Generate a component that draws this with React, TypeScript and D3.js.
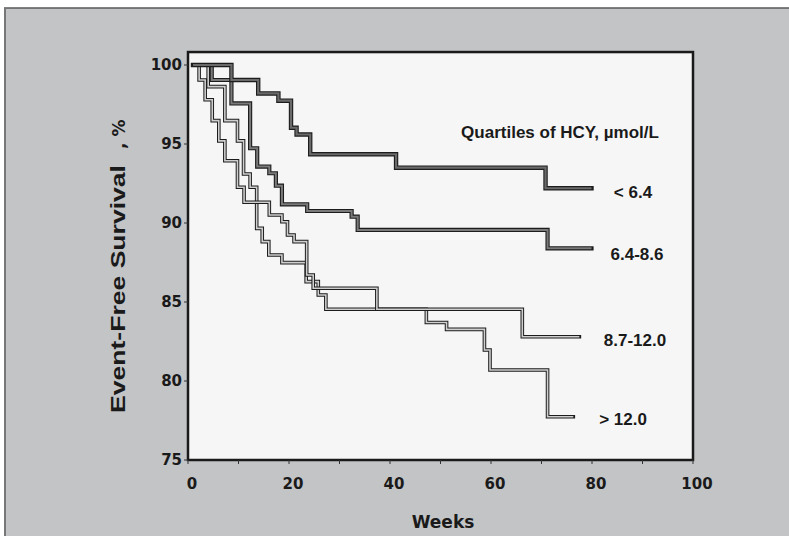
import * as d3 from "d3";

// Kaplan-Meier steps: week of each step and survival (%) after it
const grp1Weeks = [1, 8.6, 13.9, 17.9, 20.4, 21.5, 24.2, 41.2, 70.8, 79.9];
const grp1Surv = [100, 99.05, 98.2, 97.74, 96.03, 95.6, 94.35, 93.5, 92.2, 92.2];

const grp2Weeks = [1, 4.7, 8.6, 12.3, 13.7, 16.1, 17.4, 18.6, 23.6, 32.4, 33.6, 71.2, 79.9];
const grp2Surv = [100, 99.05, 97.57, 94.73, 93.57, 93.15, 92.36, 91.18, 90.76, 90.4, 89.56, 88.4, 88.4];

const grp3Weeks = [1, 2.2, 3.4, 4.8, 6.1, 7.3, 9.8, 11.1, 16.1, 18.6, 19.7, 21.0, 23.5, 24.8, 37.4, 66.2, 77.5];
const grp3Surv = [100, 99.05, 97.8, 96.48, 95.2, 93.94, 92.26, 91.31, 90.51, 90.08, 89.24, 88.82, 86.71, 85.87, 84.54, 82.8, 82.8];

const grp4Weeks = [1, 4.0, 7.3, 9.8, 11.0, 12.3, 13.6, 14.7, 16.0, 18.6, 23.4, 25.8, 27.3, 47.2, 51.2, 58.7, 59.8, 71.2, 76.3];
const grp4Surv = [100, 98.63, 96.48, 95.2, 93.1, 92.26, 89.66, 88.82, 87.97, 87.49, 86.29, 85.44, 84.54, 83.7, 83.27, 81.96, 80.7, 77.74, 77.74];

const groupLabels = ["< 6.4", "6.4-8.6", "8.7-12.0", "> 12.0"];
const xTicks = [0, 20, 40, 60, 80, 100];
const xMinorTicks = [10, 30, 50, 70, 90];
const yTicks = [75, 80, 85, 90, 95, 100];

const W = 789;
const H = 536;

export default function App() {
  const x = d3.scaleLinear().domain([0, 100]).range([188, 693]);
  const y = d3.scaleLinear().domain([75, 100]).range([460, 65]);
  const top = y(100.82);

  const line = d3
    .line<[number, number]>()
    .x((d) => x(d[0]))
    .y((d) => y(d[1]))
    .curve(d3.curveStepAfter);

  const groups = [
    { weeks: grp4Weeks, surv: grp4Surv, outer: 3.6, inner: 1.6, fill: "#cfcfcf" },
    { weeks: grp3Weeks, surv: grp3Surv, outer: 3.6, inner: 1.6, fill: "#cfcfcf" },
    { weeks: grp2Weeks, surv: grp2Surv, outer: 4.2, inner: 2, fill: "#7a7a7a" },
    { weeks: grp1Weeks, surv: grp1Surv, outer: 4.4, inner: 2.2, fill: "#6a6a6a" },
  ];

  const labelPos = [
    { x: 633, y: 198 },
    { x: 637, y: 260 },
    { x: 635, y: 346 },
    { x: 623, y: 425 },
  ];

  const sans = "'Liberation Sans', Arial, sans-serif";
  const verd = "'DejaVu Sans', Verdana, sans-serif";

  return (
    <svg width={W} height={H} style={{ position: "absolute", left: 0, top: 0 }}>
      <rect x={0} y={0} width={W} height={H} fill="#ffffff" />
      <rect x={4} y={7.5} width={W - 4} height={H - 7.5} fill="#c3c4c6" />
      <line x1={4} x2={W} y1={8} y2={8} stroke="#222" strokeWidth={1} />
      <rect x={4} y={8} width={2} height={H - 8} fill="#777" />

      {/* plot area */}
      <rect x={x(0)} y={top} width={x(100) - x(0)} height={y(75) - top} fill="#f6f6f6" />

      {groups.map((g, i) => {
        const pts = g.weeks.map((w, j) => [w, g.surv[j]] as [number, number]);
        const d = line(pts) || "";
        return (
          <g key={i}>
            <path d={d} fill="none" stroke="#1c1c1c" strokeWidth={g.outer} strokeLinecap="square" strokeLinejoin="miter" />
            <path d={d} fill="none" stroke={g.fill} strokeWidth={g.inner} strokeLinecap="butt" strokeLinejoin="miter" />
          </g>
        );
      })}

      <rect
        x={x(0)}
        y={top}
        width={x(100) - x(0)}
        height={y(75) - top}
        fill="none"
        stroke="#1a1a1a"
        strokeWidth={2.5}
      />

      {/* y axis */}
      {yTicks.map((t) => (
        <g key={t}>
          <line x1={x(0) - 4} x2={x(0)} y1={y(t)} y2={y(t)} stroke="#333" strokeWidth={1} />
          <text
            x={182}
            y={y(t)}
            dy="0.36em"
            textAnchor="end"
            fontFamily={verd}
            fontWeight="bold"
            fontSize={15}
            fill="#1a1a1a"
          >
            {t}
          </text>
        </g>
      ))}

      {/* x axis */}
      {xMinorTicks.concat(xTicks).map((t) => (
        <line key={"t" + t} x1={x(t)} x2={x(t)} y1={y(75)} y2={y(75) + 4} stroke="#333" strokeWidth={1} />
      ))}
      {xTicks.map((t) => (
        <text
          key={t}
          x={x(t) + 4}
          y={489}
          textAnchor="middle"
          fontFamily={verd}
          fontWeight="bold"
          fontSize={15}
          fill="#1a1a1a"
        >
          {t}
        </text>
      ))}

      <text x={443} y={528} textAnchor="middle" fontFamily={verd} fontWeight="bold" fontSize={17} fill="#1a1a1a">
        Weeks
      </text>

      <g transform="translate(125,413) rotate(-90)">
        <text
          x={0}
          y={0}
          fontFamily={sans}
          fontWeight="bold"
          fontSize={21}
          textLength={248}
          lengthAdjust="spacingAndGlyphs"
          fill="#1a1a1a"
        >
          Event-Free Survival
        </text>
        <text x={264} y={0} fontFamily={verd} fontWeight="bold" fontSize={17} fill="#1a1a1a">
          , %
        </text>
      </g>

      <text x={560} y={138} textAnchor="middle" fontFamily={sans} fontWeight="bold" fontSize={17} fill="#1a1a1a">
        Quartiles of HCY, µmol/L
      </text>

      {groupLabels.map((l, i) => (
        <text
          key={l}
          x={labelPos[i].x}
          y={labelPos[i].y}
          textAnchor="middle"
          fontFamily={sans}
          fontWeight="bold"
          fontSize={17}
          fill="#1a1a1a"
        >
          {l}
        </text>
      ))}
    </svg>
  );
}
